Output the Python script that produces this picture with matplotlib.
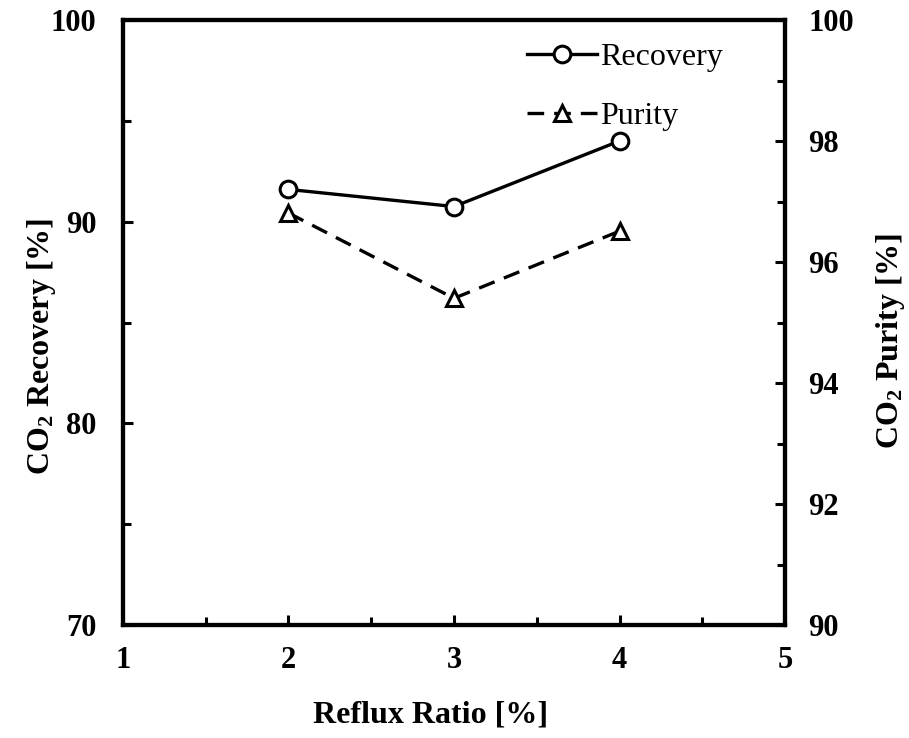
import numpy as np
import matplotlib
matplotlib.use("Agg")
import matplotlib.pyplot as plt
from matplotlib.ticker import MultipleLocator

plt.rcParams['font.family'] = 'Liberation Serif'
plt.rcParams['mathtext.fontset'] = 'custom'
plt.rcParams['mathtext.rm'] = 'Liberation Serif:bold'
plt.rcParams['mathtext.default'] = 'rm'

# reflux ratio vs. CO2 recovery / purity
reflux = [2, 3, 4]
recovery = [91.6, 90.75, 94.0]
purity = [96.81, 95.40, 96.51]

fig = plt.figure(figsize=(9.09, 7.38), dpi=100)
ax = fig.add_axes([0.1353, 0.1531, 0.7283, 0.8198])
ax2 = ax.twinx()

lw = 2.4
l1, = ax.plot(reflux, recovery, '-o', color='black', lw=lw, ms=12,
              mfc='white', mec='black', mew=2.2, label='Recovery')
l2, = ax2.plot(reflux, purity, '--^', color='black', lw=lw, ms=11,
               mfc='white', mec='black', mew=2.2, dashes=(5, 3), label='Purity')

ax.set_xlim(1, 5)
ax.set_ylim(70, 100)
ax2.set_ylim(90, 100)

ax.xaxis.set_major_locator(MultipleLocator(1))
ax.xaxis.set_minor_locator(MultipleLocator(0.5))
ax.yaxis.set_major_locator(MultipleLocator(10))
ax.yaxis.set_minor_locator(MultipleLocator(5))
ax2.yaxis.set_major_locator(MultipleLocator(2))
ax2.yaxis.set_minor_locator(MultipleLocator(1))

for a in (ax, ax2):
    for s in a.spines.values():
        s.set_linewidth(3)
    a.tick_params(which='major', direction='in', length=7, width=2.2, labelsize=22)
    a.tick_params(which='minor', direction='in', length=6, width=2.2)
ax.tick_params(axis='x', which='both', top=False, pad=15)
ax.tick_params(axis='y', which='both', right=False, pad=19)
ax2.tick_params(axis='y', which='both', left=False, pad=17)

for lab in ax.get_xticklabels() + ax.get_yticklabels() + ax2.get_yticklabels():
    lab.set_fontweight('bold')

ax.set_xlabel('Reflux Ratio [%]', fontsize=23, fontweight='bold')
ax.set_ylabel('CO$_2$ Recovery [%]', fontsize=23, fontweight='bold')
ax2.set_ylabel('CO$_2$ Purity [%]', fontsize=23, fontweight='bold')
ax.xaxis.set_label_coords(0.465, -0.125)
ax.yaxis.set_label_coords(-0.098, 0.46)
ax2.yaxis.set_label_coords(1.134, 0.47)

ax2.legend([l1, l2], ['Recovery', 'Purity'], loc='upper right',
           bbox_to_anchor=(0.94, 1.0), frameon=False, fontsize=23,
           handlelength=2.2, handletextpad=0.1, labelspacing=0.95,
           borderaxespad=0.3)

fig.savefig('out.png', dpi=100)
